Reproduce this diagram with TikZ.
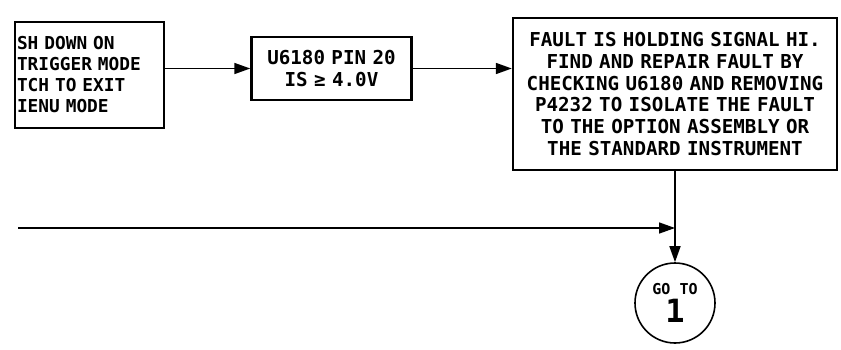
\documentclass[tikz,border=0pt]{standalone}
\usepackage{fontspec}
\setmainfont{DejaVu Sans Mono}
\usetikzlibrary{arrows.meta}
\tikzset{
  stepbox/.style = {draw, line width = 2.4pt, inner sep = 2pt,
                    font = \fontsize{19.2}{21.8}\selectfont\bfseries},
  flow/.style = {line width = 1.6pt,
                 -{Triangle[length = 16pt, width = 11pt]}}
}
\begin{document}
\begin{tikzpicture}[x = 1pt, y = -1pt]
      \useasboundingbox (0,0) rectangle (841,349);
      % process boxes
      \node [stepbox, text width = 145pt, align = left,
             minimum height = 106pt, font = \fontsize{17.8}{21}\selectfont\bfseries]
        (menuexit) at (89.5,75) {SH DOWN ON\\TRIGGER MODE\\TCH TO EXIT\\IENU MODE};
      \node [stepbox, text width = 156pt, align = center,
             minimum height = 63pt]
        (pincheck) at (331.5,68.5) {U6180 PIN 20\\IS ≥ 4.0V};
      \node [stepbox, text width = 320pt, align = center,
             minimum height = 152pt]
        (fault) at (675,94) {FAULT IS HOLDING SIGNAL HI.\\FIND AND REPAIR FAULT BY\\CHECKING U6180 AND REMOVING\\P4232 TO ISOLATE THE FAULT\\TO THE OPTION ASSEMBLY OR\\THE STANDARD INSTRUMENT};
      \node [circle, draw, line width = 1.6pt, minimum size = 80pt,
             inner sep = 0pt, align = center,
             font = \fontsize{15}{16}\selectfont\bfseries]
        (goto) at (675,303) {GO TO\\[4pt]{\fontsize{32}{30}\selectfont 1}};
      % connectors
      \draw [flow] (menuexit.east |- pincheck.west) -- (pincheck.west);
      \draw [flow] (pincheck.east) -- (fault.west |- pincheck.east);
      \draw [flow] (fault.south) -- (goto.north);
      \coordinate (feed) at (18,228);
      \coordinate (join) at (fault.south |- feed);
      \draw [flow] (feed) -- (join);
    \end{tikzpicture}
\end{document}
